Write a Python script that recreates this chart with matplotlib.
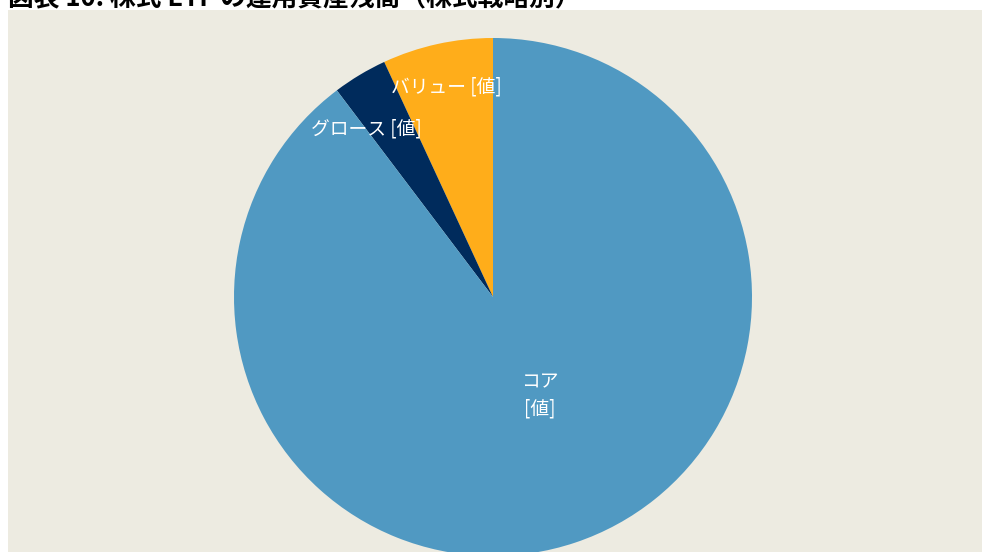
import numpy as np
import matplotlib.pyplot as plt

plt.rcParams['font.family'] = ['Noto Sans CJK JP', 'DejaVu Sans']

# data (shares of AUM by equity strategy)
strategies = ['バリュー', 'グロース', 'コア']
values = [6.9, 3.4, 89.7]
labels = ['バリュー [値]', 'グロース [値]', 'コア\n[値]']
colors = ['#FFAD1A', '#002B5C', '#5099C2']

title = '図表 10: 株式 ETF の運用資産残高（株式戦略別）'

fig = plt.figure(figsize=(9.82, 5.52), dpi=100)
fig.patch.set_facecolor('white')

ax = fig.add_axes([8 / 982, 0, 974 / 982, 542 / 552])
ax.set_facecolor('#EDEBE1')

wedges, _ = ax.pie(values, colors=colors, startangle=90, counterclock=True,
                   radius=1.0, center=(0, 0), labels=None,
                   wedgeprops=dict(linewidth=0))

# label placement relative to each wedge (radius fraction, angle shift)
label_r = [0.83, 0.81, 0.42]
label_shift = [0, 6, 7]
for w, lab, r, sh in zip(wedges, labels, label_r, label_shift):
    ang = np.deg2rad((w.theta1 + w.theta2) / 2 + sh)
    ax.text(r * np.cos(ang), r * np.sin(ang), lab, color='white',
            fontsize=13.5, ha='center', va='center', linespacing=1.4)

ax.set_xlim(-485 / 259, (974 - 485) / 259)
ax.set_ylim(-(552 - 297) / 259, 287 / 259)
ax.set_aspect('auto')
ax.axis('off')
ax.add_patch(plt.Rectangle((0, 0), 1, 1, transform=ax.transAxes,
                           facecolor='#EDEBE1', zorder=-10))

# title sits partly above the top edge, as in the source image
fig.text(8 / 982, 1 - 6 / 552, title, fontsize=18.5, fontweight='bold',
         ha='left', va='baseline', color='black')

fig.savefig('out.png', dpi=100, facecolor='white')
